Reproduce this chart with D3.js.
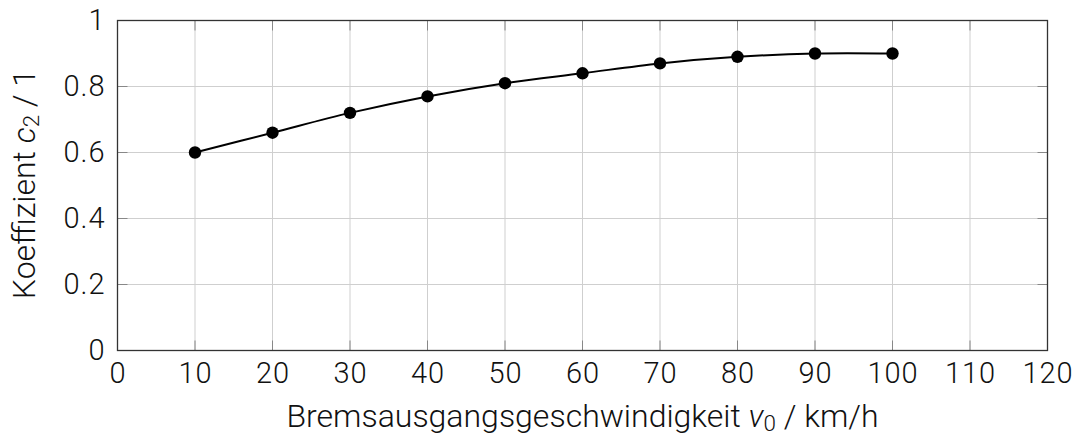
<!DOCTYPE html>
<html><head><meta charset="utf-8">
<script src="https://cdn.jsdelivr.net/npm/d3@7"></script>
<style>
html,body{margin:0;padding:0;background:#fff;}
text{font-family:Roboto,"Open Sans",sans-serif;font-weight:300;fill:#111;}
</style></head>
<body><svg id="c" width="1078" height="439"></svg>
<script>
const speeds = [10,20,30,40,50,60,70,80,90,100];
const c2 = [0.60,0.66,0.72,0.77,0.81,0.84,0.87,0.89,0.90,0.90];
const xTicks = [0,10,20,30,40,50,60,70,80,90,100,110,120];
const yTicks = [0,0.2,0.4,0.6,0.8,1];

const svg = d3.select("#c");
const L=117.5, R=1047.5, T=20.5, B=350.5;
const x = d3.scaleLinear().domain([0,120]).range([L,R]);
const y = d3.scaleLinear().domain([0,1]).range([B,T]);
const fs = 29, tfs = 32;

// grid
svg.append("g").selectAll("line").data(xTicks.slice(1,-1)).join("line")
  .attr("x1",d=>x(d)).attr("x2",d=>x(d)).attr("y1",T).attr("y2",B)
  .attr("stroke","#cfcfcf").attr("stroke-width",1);
svg.append("g").selectAll("line").data(yTicks.slice(1,-1)).join("line")
  .attr("y1",d=>y(d)).attr("y2",d=>y(d)).attr("x1",L).attr("x2",R)
  .attr("stroke","#cfcfcf").attr("stroke-width",1);

// tick marks inside (both sides)
const tk=10;
const tg = svg.append("g").attr("stroke","#888").attr("stroke-width",1);
xTicks.forEach(d=>{
  tg.append("line").attr("x1",x(d)).attr("x2",x(d)).attr("y1",B).attr("y2",B-tk);
  tg.append("line").attr("x1",x(d)).attr("x2",x(d)).attr("y1",T).attr("y2",T+tk);
});
yTicks.forEach(d=>{
  tg.append("line").attr("y1",y(d)).attr("y2",y(d)).attr("x1",L).attr("x2",L+tk);
  tg.append("line").attr("y1",y(d)).attr("y2",y(d)).attr("x1",R).attr("x2",R-tk);
});

// frame
svg.append("rect").attr("x",L).attr("y",T).attr("width",R-L).attr("height",B-T)
  .attr("fill","none").attr("stroke","#333").attr("stroke-width",1.3);

// axes labels via d3 axis
const xAxis = svg.append("g").attr("transform",`translate(0,${B})`)
  .call(d3.axisBottom(x).tickValues(xTicks).tickSize(0).tickPadding(12).tickFormat(d3.format("d")));
xAxis.select(".domain").remove();
xAxis.selectAll("text").attr("font-size",fs).style("font-family","Roboto, sans-serif").style("font-weight",300).style("letter-spacing","1px").attr("fill","#111");

const yAxis = svg.append("g").attr("transform",`translate(${L},0)`)
  .call(d3.axisLeft(y).tickValues(yTicks).tickSize(0).tickPadding(12).tickFormat(d=>d===0||d===1?d3.format("d")(d):d3.format(".1f")(d)));
yAxis.select(".domain").remove();
yAxis.selectAll("text").attr("font-size",fs).style("font-family","Roboto, sans-serif").style("font-weight",300).style("letter-spacing","1px").attr("fill","#111");

// line
const pts = speeds.map((s,i)=>[s,c2[i]]);
svg.append("path").datum(pts)
  .attr("d",d3.line().x(d=>x(d[0])).y(d=>y(d[1])).curve(d3.curveCatmullRom.alpha(0.5)))
  .attr("fill","none").attr("stroke","#000").attr("stroke-width",2);
svg.append("g").selectAll("circle").data(pts).join("circle")
  .attr("cx",d=>x(d[0])).attr("cy",d=>y(d[1])).attr("r",6.2).attr("fill","#000");

// axis titles
const xt = svg.append("text").attr("x",(L+R)/2+0).attr("y",427).attr("text-anchor","middle").attr("font-size",tfs);
xt.append("tspan").text("Bremsausgangsgeschwindigkeit ");
xt.append("tspan").attr("font-style","italic").text("v");
xt.append("tspan").attr("font-size",tfs*0.7).attr("dy",4).text("0");
xt.append("tspan").attr("dy",-4).text(" / km/h");

const yt = svg.append("text").attr("transform",`translate(35,184) rotate(-90)`).attr("text-anchor","middle").attr("font-size",tfs);
yt.append("tspan").text("Koeffizient ");
yt.append("tspan").attr("font-style","italic").text("c");
yt.append("tspan").attr("font-size",tfs*0.7).attr("dy",4).text("2");
yt.append("tspan").attr("dy",-4).text(" / 1");
</script></body></html>
